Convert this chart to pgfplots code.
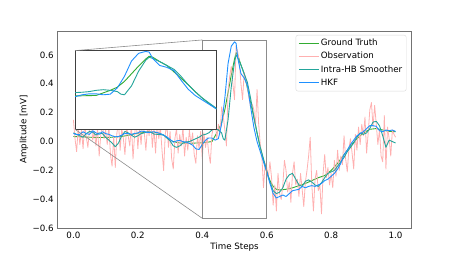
\documentclass[border=0pt]{standalone}
\usepackage{fontspec}
\setmainfont{DejaVu Sans}
\usepackage{pgfplots}
\usepackage{pgfplotstable}
\pgfplotsset{compat=1.18}
\definecolor{colGT}{RGB}{50,172,50}
\definecolor{colObs}{RGB}{255,176,176}
\definecolor{colIHB}{RGB}{35,165,155}
\definecolor{colHKF}{RGB}{30,144,255}

\pgfplotstableread{
x y
0.00 0.035
0.02 0.033
0.05 0.030
0.08 0.028
0.10 0.028
0.12 0.030
0.15 0.035
0.18 0.048
0.20 0.058
0.22 0.064
0.24 0.066
0.26 0.062
0.28 0.045
0.30 0.012
0.31 0.0
0.33 -0.01
0.36 -0.012
0.40 -0.008
0.42 -0.003
0.43 0.0
0.44 0.04
0.45 0.08
0.46 0.13
0.47 0.22
0.48 0.34
0.49 0.46
0.50 0.57
0.505 0.615
0.51 0.60
0.52 0.53
0.53 0.47
0.54 0.37
0.55 0.27
0.56 0.17
0.57 0.06
0.58 -0.04
0.59 -0.13
0.60 -0.21
0.61 -0.27
0.62 -0.31
0.63 -0.33
0.64 -0.335
0.66 -0.33
0.68 -0.32
0.70 -0.305
0.72 -0.29
0.74 -0.27
0.76 -0.25
0.78 -0.235
0.80 -0.20
0.82 -0.15
0.84 -0.09
0.86 -0.03
0.88 0.02
0.90 0.06
0.92 0.085
0.94 0.09
0.96 0.08
0.98 0.07
1.00 0.068
}\gtdata

\pgfplotstableread{
x y
0.000 0.15
0.005 0.02
0.010 -0.07
0.015 0.10
0.020 -0.02
0.025 0.08
0.030 -0.05
0.035 0.12
0.040 0.03
0.045 -0.04
0.050 0.09
0.055 0.14
0.060 0.01
0.065 0.07
0.070 -0.03
0.075 0.10
0.080 -0.10
0.085 0.05
0.090 0.12
0.095 0.02
0.100 0.08
0.105 -0.02
0.110 0.11
0.115 -0.09
0.120 -0.17
0.125 0.04
0.130 -0.18
0.135 0.06
0.140 0.13
0.145 -0.06
0.150 0.09
0.155 0.02
0.160 -0.09
0.165 0.10
0.170 0.04
0.175 -0.03
0.180 0.12
0.185 -0.12
0.190 0.05
0.195 0.15
0.200 -0.05
0.205 0.10
0.210 -0.02
0.215 0.14
0.220 0.06
0.225 -0.06
0.230 0.11
0.235 0.04
0.240 0.16
0.245 -0.04
0.250 0.09
0.255 -0.08
0.260 0.13
0.265 0.02
0.270 0.10
0.275 -0.06
0.280 -0.20
0.285 0.05
0.290 0.12
0.295 -0.04
0.300 0.07
0.305 -0.12
0.310 -0.19
0.315 0.02
0.320 0.09
0.325 -0.08
0.330 0.05
0.335 -0.03
0.340 0.10
0.345 -0.10
0.350 0.03
0.355 -0.06
0.360 0.08
0.365 -0.02
0.370 0.06
0.375 -0.09
0.380 -0.15
0.385 0.04
0.390 -0.05
0.395 0.07
0.400 -0.12
0.405 0.06
0.410 -0.04
0.415 0.03
0.420 -0.08
0.425 -0.15
0.430 0.05
0.435 0.10
0.440 0.15
0.445 0.02
0.450 0.12
0.455 0.05
0.460 0.24
0.465 0.18
0.470 0.08
0.475 -0.03
0.480 0.35
0.485 0.45
0.490 0.52
0.495 0.40
0.500 0.29
0.505 0.66
0.510 0.62
0.515 0.55
0.520 0.40
0.525 0.29
0.530 0.48
0.535 0.43
0.540 0.38
0.545 0.30
0.550 0.24
0.555 0.26
0.560 0.22
0.565 0.10
0.570 0.36
0.575 0.12
0.580 -0.02
0.585 -0.10
0.590 -0.32
0.595 -0.15
0.600 -0.18
0.605 -0.25
0.610 -0.14
0.615 -0.25
0.620 -0.44
0.625 -0.30
0.630 -0.48
0.635 -0.22
0.640 -0.36
0.645 -0.40
0.650 -0.30
0.655 -0.13
0.660 -0.20
0.665 -0.35
0.670 -0.28
0.675 -0.42
0.680 -0.22
0.685 -0.14
0.690 -0.30
0.695 -0.26
0.700 -0.38
0.705 -0.22
0.710 -0.33
0.715 -0.45
0.720 -0.28
0.725 -0.20
0.730 -0.10
0.735 0.03
0.740 -0.30
0.745 -0.48
0.750 -0.26
0.755 -0.20
0.760 -0.34
0.765 -0.30
0.770 -0.50
0.775 -0.22
0.780 -0.09
0.785 -0.25
0.790 -0.18
0.795 -0.30
0.800 -0.22
0.805 -0.32
0.810 -0.13
0.815 -0.24
0.820 -0.06
0.825 -0.20
0.830 -0.10
0.835 -0.16
0.840 0.04
0.845 -0.12
0.850 -0.21
0.855 -0.05
0.860 0.02
0.865 -0.08
0.870 -0.19
0.875 0.05
0.880 -0.06
0.885 0.10
0.890 -0.02
0.895 0.12
0.900 0.04
0.905 0.17
0.910 -0.08
0.915 0.06
0.920 0.22
0.925 0.27
0.930 0.10
0.935 0.25
0.940 0.12
0.945 -0.02
0.950 0.08
0.955 -0.10
0.960 -0.14
0.965 0.18
0.970 -0.19
0.975 0.10
0.980 0.02
0.985 -0.10
0.990 0.08
0.995 0.05
1.000 0.03
}\obsdata

\pgfplotstableread{
x y
0.00 0.06
0.01 0.05
0.02 0.04
0.03 0.03
0.04 0.055
0.05 0.07
0.06 0.065
0.07 0.045
0.08 0.06
0.09 0.055
0.10 0.03
0.11 0.01
0.12 -0.01
0.13 -0.036
0.14 -0.01
0.15 0.04
0.16 0.07
0.17 0.06
0.18 0.045
0.19 0.03
0.20 0.04
0.21 0.055
0.22 0.06
0.23 0.068
0.24 0.065
0.25 0.052
0.26 0.05
0.27 0.048
0.28 0.045
0.29 0.025
0.30 0.005
0.31 -0.03
0.32 -0.04
0.33 -0.03
0.34 -0.01
0.35 -0.002
0.36 0.0
0.37 0.01
0.38 0.02
0.39 0.03
0.40 0.045
0.41 0.05
0.42 0.06
0.43 0.08
0.44 0.09
0.45 0.08
0.46 0.06
0.465 0.02
0.47 0.01
0.48 0.15
0.49 0.38
0.50 0.55
0.505 0.60
0.51 0.58
0.52 0.53
0.53 0.47
0.54 0.41
0.55 0.30
0.56 0.17
0.57 0.06
0.58 -0.04
0.59 -0.12
0.60 -0.20
0.61 -0.28
0.62 -0.34
0.63 -0.36
0.64 -0.35
0.65 -0.32
0.66 -0.26
0.67 -0.23
0.68 -0.22
0.69 -0.26
0.70 -0.30
0.71 -0.31
0.72 -0.275
0.73 -0.265
0.74 -0.28
0.75 -0.30
0.76 -0.31
0.77 -0.285
0.78 -0.25
0.79 -0.22
0.80 -0.21
0.81 -0.20
0.82 -0.17
0.83 -0.14
0.84 -0.11
0.85 -0.07
0.86 -0.04
0.87 -0.01
0.88 0.03
0.89 0.06
0.90 0.05
0.91 0.06
0.92 0.09
0.93 0.135
0.94 0.14
0.95 0.11
0.96 0.04
0.97 -0.04
0.98 0.01
0.99 0.0
1.00 -0.01
}\ihbdata

\pgfplotstableread{
x y
0.00 0.056
0.01 0.048
0.02 0.05
0.03 0.068
0.04 0.055
0.05 0.05
0.06 0.075
0.07 0.06
0.08 0.05
0.09 0.068
0.10 0.055
0.11 0.05
0.12 0.04
0.13 0.033
0.14 0.035
0.15 0.045
0.16 0.056
0.17 0.055
0.18 0.05
0.19 0.056
0.20 0.06
0.21 0.072
0.22 0.07
0.23 0.062
0.24 0.065
0.25 0.068
0.26 0.062
0.27 0.055
0.28 0.045
0.29 0.032
0.30 0.015
0.31 -0.004
0.32 0.005
0.33 0.008
0.34 0.0
0.35 -0.004
0.36 -0.012
0.37 -0.025
0.38 -0.05
0.39 -0.055
0.40 -0.02
0.41 0.01
0.42 0.025
0.43 0.025
0.44 0.01
0.45 0.02
0.46 0.12
0.47 0.30
0.48 0.54
0.49 0.66
0.50 0.69
0.505 0.68
0.51 0.58
0.52 0.47
0.53 0.44
0.54 0.39
0.55 0.24
0.56 0.10
0.57 0.0
0.58 -0.07
0.59 -0.14
0.60 -0.21
0.61 -0.29
0.62 -0.36
0.63 -0.39
0.64 -0.38
0.65 -0.37
0.66 -0.38
0.67 -0.36
0.68 -0.34
0.69 -0.335
0.70 -0.33
0.71 -0.31
0.72 -0.32
0.73 -0.31
0.74 -0.305
0.75 -0.31
0.76 -0.30
0.77 -0.29
0.78 -0.27
0.79 -0.26
0.80 -0.24
0.81 -0.22
0.82 -0.19
0.83 -0.15
0.84 -0.09
0.85 -0.06
0.86 -0.02
0.87 0.01
0.88 0.04
0.89 0.055
0.90 0.068
0.91 0.09
0.92 0.11
0.93 0.11
0.94 0.105
0.95 0.075
0.96 0.068
0.97 0.08
0.98 0.075
0.99 0.08
1.00 0.07
}\hkfdata

\newcommand{\fs}{\fontsize{8.7}{10}\selectfont}

\begin{document}
\begin{tikzpicture}
\path[use as bounding box] (-57.3pt,-28.7pt) rectangle (399.7pt,228.3pt);
\begin{axis}[
  at={(0pt,0pt)}, anchor=south west,
  scale only axis, width=354.4pt, height=197.3pt,
  xmin=-0.05, xmax=1.05, ymin=-0.6, ymax=0.765,
  xtick={0,0.2,0.4,0.6,0.8,1.0},
  xticklabels={0.0,0.2,0.4,0.6,0.8,1.0},
  ytick={-0.6,-0.4,-0.2,0,0.2,0.4,0.6},
  yticklabels={−0.6,−0.4,−0.2,0.0,0.2,0.4,0.6},
  major tick length=0pt,
  tick label style={font=\fs},
  xlabel={Time Steps}, ylabel={Amplitude [mV]},
  label style={font=\fs},
  xlabel style={at={(axis description cs:0.5,-0.0933)}, anchor=center},
  ylabel style={at={(axis description cs:-0.094,0.5)}, anchor=center},
  axis line style={black!55, line width=0.8pt},
  legend style={at={(rel axis cs:1,1)}, anchor=north east, xshift=-5.3pt, yshift=-4pt,
    draw=black!15, rounded corners=2pt, font=\fs, inner xsep=2.5pt, inner ysep=2.5pt,
    row sep=1.9pt, nodes={inner sep=1.5pt, text height=6.5pt, text depth=1.8pt}},
  legend cell align=left,
  legend image code/.code={\draw[#1, line width=1pt] (0pt,0pt) -- (20pt,0pt);},
  every axis plot/.append style={line width=0.9pt, line join=round},
]
\addplot[color=colGT, no markers] table {\gtdata};
\addlegendentry{Ground Truth}
\addplot[color=colObs, no markers, line width=0.8pt] table {\obsdata};
\addlegendentry{Observation}
\addplot[color=colIHB, no markers] table {\ihbdata};
\addlegendentry{Intra-HB Smoother}
\addplot[color=colHKF, no markers] table {\hkfdata};
\addlegendentry{HKF}
\draw[black!45, line width=0.6pt] (axis cs:0.4,-0.531) rectangle (axis cs:0.6,0.703);
\coordinate (zTL) at (axis cs:0.4,0.703);
\coordinate (zBL) at (axis cs:0.4,-0.531);
\end{axis}
\begin{axis}[
  name=ins,
  at={(17.7pt,99pt)}, anchor=south west,
  scale only axis, width=141.3pt, height=78.7pt,
  xmin=0.4, xmax=0.6, ymin=-0.531, ymax=0.703,
  xtick=\empty, ytick=\empty,
  axis background/.style={fill=white},
  axis line style={black!75, line width=0.7pt},
  every axis plot/.append style={line width=0.9pt, line join=round},
]
\addplot[color=colGT, no markers] table {\gtdata};
\addplot[color=colIHB, no markers] table {\ihbdata};
\addplot[color=colHKF, no markers] table {\hkfdata};
\end{axis}
\draw[black!45, line width=0.6pt] (ins.north west) -- (zTL);
\draw[black!45, line width=0.6pt] (ins.south west) -- (zBL);
\end{tikzpicture}
\end{document}
